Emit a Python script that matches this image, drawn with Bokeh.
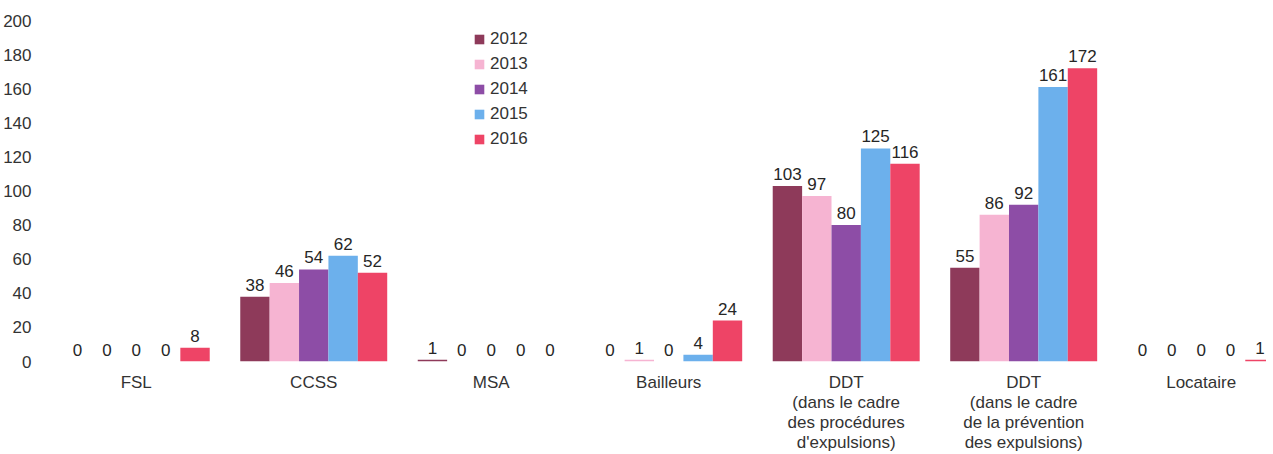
from bokeh.plotting import figure
from bokeh.models import ColumnDataSource, Range1d, FixedTicker, Legend, LegendItem
from bokeh.transform import dodge
from bokeh.core.properties import value
from bokeh.embed import file_html
from bokeh.resources import INLINE

categories = ["FSL", "CCSS", "MSA", "Bailleurs",
              "DDT\n(dans le cadre\ndes procédures\nd'expulsions)",
              "DDT\n(dans le cadre\nde la prévention\ndes expulsions)",
              "Locataire"]
years = ["2012", "2013", "2014", "2015", "2016"]
v2012 = [0, 38, 1, 0, 103, 55, 0]
v2013 = [0, 46, 0, 1, 97, 86, 0]
v2014 = [0, 54, 0, 0, 80, 92, 0]
v2015 = [0, 62, 0, 4, 125, 161, 0]
v2016 = [8, 52, 0, 24, 116, 172, 1]
series = [v2012, v2013, v2014, v2015, v2016]
colors = ["#8E3A5A", "#F6B4D2", "#8D4DA6", "#6CB0EC", "#EE4466"]
y_ticks = list(range(0, 201, 20))

FONT = "Liberation Sans"
centers = [i + 0.5 for i in range(len(categories))]

p = figure(frame_width=1219, frame_height=341, output_backend="svg", toolbar_location=None,
           x_range=Range1d(0, 6.868), y_range=Range1d(0, 200),
           min_border_left=46, min_border_right=0, min_border_top=20, min_border_bottom=0)
p.outline_line_color = None
p.grid.visible = False
p.background_fill_color = "white"

bw = 0.1656
items = []
for k, (yr, vals, col) in enumerate(zip(years, series, colors)):
    src = ColumnDataSource(dict(xc=centers, v=vals, t=[str(x) for x in vals]))
    off = (k - 2) * bw
    r = p.vbar(x=dodge("xc", off), top="v", width=bw, source=src,
               fill_color=col, line_color=None)
    p.text(x=dodge("xc", off), y="v", text="t", source=src,
           text_align="center", text_baseline="bottom", y_offset=-6,
           text_font=value(FONT), text_font_size="17px", text_color="#262626")
    items.append(LegendItem(label=yr, renderers=[r]))

legend = Legend(items=items, location=(426, 212), orientation="vertical",
                glyph_width=12, glyph_height=12, label_height=20, spacing=5,
                padding=0, margin=0, border_line_color=None,
                background_fill_alpha=0, label_standoff=5,
                label_text_font=FONT, label_text_font_size="17px",
                label_text_color="#333333", label_text_baseline="middle")
p.add_layout(legend)

p.yaxis.ticker = FixedTicker(ticks=y_ticks)
p.yaxis.axis_line_color = None
p.yaxis.major_tick_line_color = None
p.yaxis.minor_tick_line_color = None
p.yaxis.major_label_standoff = 10
p.yaxis.major_label_text_font = FONT
p.yaxis.major_label_text_font_size = "17px"
p.yaxis.major_label_text_color = "#333333"

p.xaxis.ticker = FixedTicker(ticks=centers)
p.xaxis.major_label_overrides = {c: lab for c, lab in zip(centers, categories)}
p.xaxis.axis_line_color = None
p.xaxis.major_tick_line_color = None
p.xaxis.minor_tick_line_color = None
p.xaxis.major_label_standoff = 5
p.xaxis.major_label_text_line_height = 1.07
p.xaxis.major_label_text_font = FONT
p.xaxis.major_label_text_font_size = "17px"
p.xaxis.major_label_text_color = "#333333"

open("out.html", "w").write(file_html(p, INLINE))
